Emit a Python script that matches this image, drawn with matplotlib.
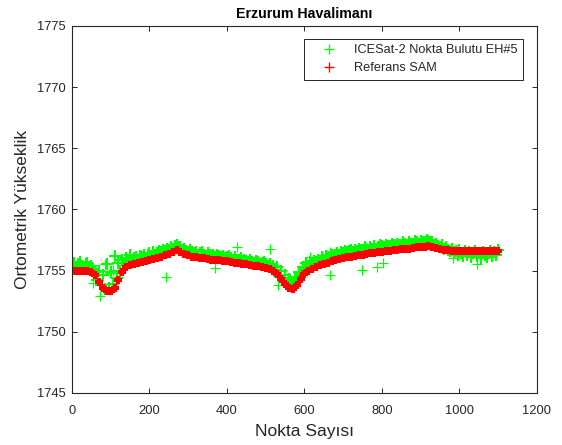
import numpy as np
import matplotlib.pyplot as plt

plt.rcParams['font.family'] = ['Liberation Sans', 'DejaVu Sans']

# Referans SAM (her 10 noktada bir)
ref_x = np.arange(0, 1101, 10)
ref_y = [1755.0, 1755.0, 1755.0, 1755.0, 1754.95, 1754.9, 1754.6, 1754.1, 1753.6, 1753.35,
         1753.35, 1753.6, 1754.2, 1754.9, 1755.3, 1755.45, 1755.55, 1755.65, 1755.7, 1755.8,
         1755.85, 1755.95, 1756.05, 1756.15, 1756.25, 1756.35, 1756.5, 1756.7, 1756.5, 1756.35,
         1756.25, 1756.15, 1756.1, 1756.05, 1756.0, 1755.95, 1755.9, 1755.85, 1755.85, 1755.8,
         1755.75, 1755.7, 1755.65, 1755.6, 1755.55, 1755.5, 1755.45, 1755.4, 1755.35, 1755.3,
         1755.2, 1755.1, 1755.0, 1754.75, 1754.3, 1753.9, 1753.55, 1753.5, 1753.8, 1754.3,
         1754.7, 1754.95, 1755.15, 1755.3, 1755.45, 1755.55, 1755.65, 1755.75, 1755.85, 1755.95,
         1756.0, 1756.1, 1756.15, 1756.2, 1756.25, 1756.3, 1756.35, 1756.4, 1756.45, 1756.5,
         1756.55, 1756.6, 1756.6, 1756.65, 1756.7, 1756.75, 1756.75, 1756.8, 1756.85, 1756.9,
         1756.9, 1756.95, 1757.0, 1756.95, 1756.85, 1756.75, 1756.7, 1756.65, 1756.6, 1756.6,
         1756.6, 1756.6, 1756.6, 1756.6, 1756.6, 1756.6, 1756.6, 1756.6, 1756.6, 1756.6,
         1756.6]

# ICESat-2 nokta bulutu (her 5 noktada bir)
ice_x = np.arange(0, 1101, 5)
ice_y = [1755.4, 1755.6, 1755.3, 1755.5, 1755.7, 1755.4, 1755.2, 1755.5, 1755.6, 1755.3,
         1755.4, 1755.1, 1754.9, 1754.2, 1755.0, 1753.8, 1754.6, 1753.5, 1755.5, 1753.6,
         1754.9, 1753.9, 1756.2, 1754.4, 1755.6, 1755.0, 1755.9, 1755.6, 1756.0, 1755.8,
         1756.3, 1755.9, 1756.0, 1756.1, 1755.9, 1756.2, 1756.1, 1756.3, 1756.0, 1756.3,
         1756.4, 1756.2, 1756.5, 1756.3, 1756.4, 1756.6, 1756.5, 1756.7, 1756.6, 1756.8,
         1756.7, 1756.9, 1756.8, 1757.0, 1757.1, 1756.9, 1756.9, 1756.7, 1756.8, 1756.6,
         1756.5, 1756.7, 1756.5, 1756.4, 1756.5, 1756.3, 1756.4, 1756.5, 1756.3, 1756.2,
         1756.4, 1756.3, 1756.2, 1756.3, 1756.1, 1756.3, 1756.2, 1756.1, 1756.2, 1756.0,
         1756.1, 1756.2, 1756.0, 1755.9, 1756.1, 1755.9, 1755.9, 1756.0, 1755.8, 1755.9,
         1755.8, 1755.7, 1755.9, 1755.7, 1755.6, 1755.8, 1755.7, 1755.5, 1755.6, 1755.7,
         1755.5, 1755.4, 1755.5, 1755.2, 1755.4, 1754.9, 1755.3, 1754.6, 1755.0, 1754.2,
         1754.6, 1754.0, 1754.3, 1753.9, 1754.1, 1754.5, 1754.4, 1754.9, 1754.8, 1755.3,
         1755.1, 1755.6, 1755.4, 1755.7, 1755.5, 1755.8, 1755.7, 1755.9, 1755.8, 1756.1,
         1755.9, 1756.2, 1756.1, 1756.0, 1756.3, 1756.1, 1756.3, 1756.4, 1756.3, 1756.5,
         1756.4, 1756.6, 1756.5, 1756.6, 1756.7, 1756.5, 1756.7, 1756.6, 1756.8, 1756.7,
         1756.7, 1756.9, 1756.8, 1756.7, 1756.9, 1756.8, 1757.0, 1756.8, 1756.9, 1757.1,
         1757.0, 1756.9, 1757.1, 1757.0, 1757.0, 1757.2, 1757.1, 1757.0, 1757.2, 1757.1,
         1757.1, 1757.3, 1757.2, 1757.1, 1757.3, 1757.2, 1757.2, 1757.4, 1757.3, 1757.2,
         1757.4, 1757.3, 1757.3, 1757.5, 1757.4, 1757.3, 1757.3, 1757.1, 1757.2, 1757.0,
         1756.9, 1757.1, 1756.8, 1756.9, 1756.7, 1756.6, 1756.8, 1756.5, 1756.6, 1756.3,
         1756.7, 1756.4, 1756.2, 1756.6, 1756.3, 1756.5, 1756.1, 1756.4, 1756.6, 1756.2,
         1756.4, 1756.0, 1756.5, 1756.3, 1756.1, 1756.4, 1756.6, 1756.2, 1756.5, 1756.3,
         1756.7]

# dağınık ICESat-2 noktaları
out_x = [55, 72, 85, 98, 107, 115, 244, 369, 425, 511, 532, 614, 666, 666, 748, 786, 803, 984, 1044]
out_y = [1754.0, 1752.9, 1755.5, 1754.8, 1755.05, 1754.5, 1754.45, 1755.2, 1756.95, 1756.8,
         1753.8, 1756.1, 1756.55, 1754.65, 1755.05, 1755.3, 1755.65, 1756.0, 1755.5]

green = (0, 1, 0)
red = (1, 0, 0)
gray = (0.15, 0.15, 0.15)

fig = plt.figure(figsize=(5.62, 4.45), dpi=100)
ax = fig.add_axes([0.128, 0.117, 0.8275, 0.8247])

ax.plot(ice_x, ice_y, '+', color=green, ms=8, mew=1.5)
ax.plot(out_x, out_y, '+', color=green, ms=7, mew=0.9)
ax.plot(ref_x, ref_y, '+', color=red, ms=6.3, mew=3)

# lejant için
ax.plot([], [], '+', color=green, ms=6.5, mew=1.0, label='ICESat-2 Nokta Bulutu EH#5')
ax.plot([], [], '+', color=red, ms=6.5, mew=1.0, label='Referans SAM')

ax.set_xlim(0, 1200)
ax.set_ylim(1745, 1775)
ax.set_xticks(np.arange(0, 1201, 200))
ax.set_yticks(np.arange(1745, 1776, 5))

for s in ax.spines.values():
    s.set_color(gray)
    s.set_linewidth(0.8)
ax.tick_params(direction='in', top=True, right=True, length=3.3, width=0.7,
               colors=gray, labelsize=9.3)
ax.tick_params(axis='x', pad=8.5)
ax.tick_params(axis='y', pad=4.5)

ax.set_xlabel('Nokta Sayısı', fontsize=12.5, color=gray, labelpad=5.5)
ax.set_ylabel('Ortometrik Yükseklik', fontsize=12.5, color=gray, labelpad=5)
ax.set_title('Erzurum Havalimanı', fontsize=10.2, fontweight='bold', pad=6)

leg = ax.legend(loc='upper right', bbox_to_anchor=(0.97, 0.9646), borderaxespad=0,
                fontsize=9.2, fancybox=False, framealpha=1, edgecolor=gray,
                handlelength=3.2, handletextpad=0.35, borderpad=0.4, labelspacing=0.5)
leg.get_frame().set_linewidth(0.7)
for t in leg.get_texts():
    t.set_color(gray)

fig.savefig('out.png', dpi=100)
